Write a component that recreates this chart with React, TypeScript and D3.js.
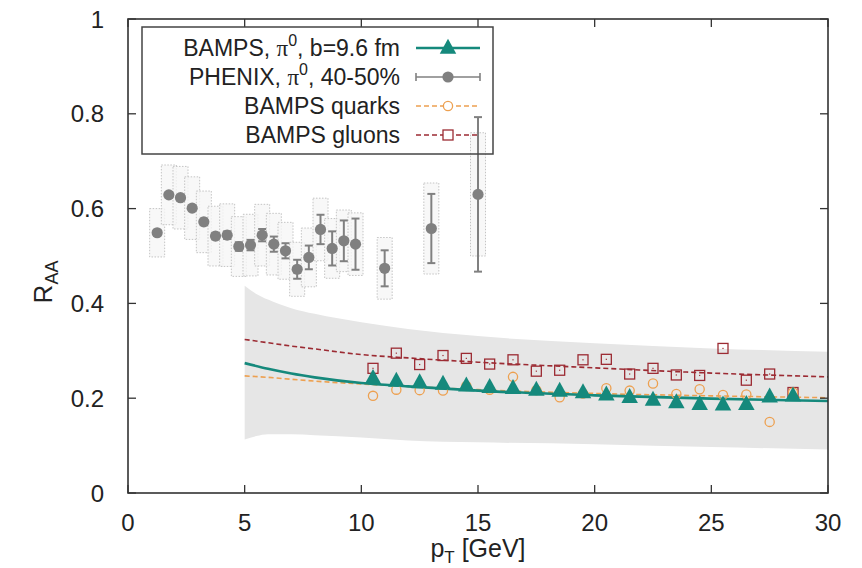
import React from "react";
import * as d3 from "d3";

// PHENIX pi0, 40-50%
const phenixPt = [1.25, 1.75, 2.25, 2.75, 3.25, 3.75, 4.25, 4.75, 5.25, 5.75, 6.25, 6.75, 7.25, 7.75, 8.25, 8.75, 9.25, 9.75, 11, 13, 15];
const phenixR = [0.549, 0.629, 0.623, 0.601, 0.572, 0.542, 0.544, 0.52, 0.523, 0.544, 0.525, 0.511, 0.472, 0.497, 0.556, 0.516, 0.532, 0.525, 0.474, 0.558, 0.63];
const phenixStat = [0.006, 0.006, 0.006, 0.006, 0.007, 0.007, 0.008, 0.009, 0.011, 0.013, 0.016, 0.016, 0.02, 0.025, 0.031, 0.036, 0.043, 0.054, 0.038, 0.073, 0.163];
const phenixSys = [0.051, 0.063, 0.066, 0.066, 0.065, 0.063, 0.066, 0.063, 0.065, 0.065, 0.065, 0.06, 0.057, 0.062, 0.066, 0.063, 0.065, 0.066, 0.065, 0.096, 0.13];

// BAMPS points
const bampsPt = [10.5, 11.5, 12.5, 13.5, 14.5, 15.5, 16.5, 17.5, 18.5, 19.5, 20.5, 21.5, 22.5, 23.5, 24.5, 25.5, 26.5, 27.5, 28.5];
const bampsPion = [0.242, 0.236, 0.233, 0.23, 0.226, 0.223, 0.221, 0.217, 0.215, 0.212, 0.207, 0.202, 0.196, 0.191, 0.187, 0.186, 0.187, 0.203, 0.205];
const bampsQuarks = [0.205, 0.218, 0.217, 0.216, 0.226, 0.218, 0.245, 0.217, 0.202, 0.21, 0.221, 0.216, 0.231, 0.209, 0.219, 0.207, 0.208, 0.15, 0.212];
const bampsGluons = [0.263, 0.295, 0.271, 0.29, 0.284, 0.272, 0.281, 0.257, 0.259, 0.281, 0.282, 0.251, 0.263, 0.249, 0.248, 0.305, 0.238, 0.251, 0.212];

// fit curves
const curvePt = [5, 6, 7, 8, 10, 12, 15, 20, 25, 30];
const curvePion = [0.274, 0.262, 0.252, 0.244, 0.232, 0.225, 0.216, 0.206, 0.199, 0.194];
const curveQuarks = [0.247, 0.244, 0.24, 0.236, 0.23, 0.225, 0.218, 0.21, 0.205, 0.201];
const curveGluons = [0.324, 0.317, 0.31, 0.304, 0.292, 0.285, 0.276, 0.264, 0.253, 0.245];

// uncertainty band
const bandPt = [5, 5.5, 6, 7, 8, 10, 12, 15, 20, 25, 30];
const bandLow = [0.113, 0.12, 0.124, 0.124, 0.122, 0.117, 0.111, 0.107, 0.103, 0.097, 0.092];
const bandHigh = [0.437, 0.42, 0.408, 0.39, 0.378, 0.36, 0.346, 0.331, 0.316, 0.305, 0.298];

const xTicks = [0, 5, 10, 15, 20, 25, 30];
const yTicks = [0, 0.2, 0.4, 0.6, 0.8, 1];

const TEAL = "#15897c";
const GRAY = "#808080";
const ORANGE = "#eda050";
const DRED = "#9c2b33";
const FONT = "'Liberation Sans', Arial, Helvetica, sans-serif";

export default function App() {
  const x = d3.scaleLinear().domain([0, 30]).range([128, 828]);
  const y = d3.scaleLinear().domain([0, 1]).range([493, 19]);
  const [x0, x1] = x.range();
  const [yb, yt] = y.range();

  const area = d3
    .area<number>()
    .x((d, i) => x(bandPt[i]))
    .y0((d, i) => y(bandLow[i]))
    .y1((d, i) => y(bandHigh[i]))
    .curve(d3.curveMonotoneX);

  const line = (vals: number[]) =>
    d3
      .line<number>()
      .x((d, i) => x(curvePt[i]))
      .y((d) => y(d))
      .curve(d3.curveMonotoneX)(vals) as string;

  const tri = (cx: number, cy: number, s: number) =>
    `M${cx},${cy - s * 0.62}L${cx + s * 0.55},${cy + s * 0.38}L${cx - s * 0.55},${cy + s * 0.38}Z`;

  const tickLen = 8;
  const legX = 400;
  const legRows = [48, 77, 106, 135];
  const sx0 = 416;
  const sx1 = 480;
  const smid = 448;

  return (
    <svg
      width={862}
      height={568}
      style={{ position: "absolute", left: 0, top: 0, background: "#fff" }}
      fontFamily={FONT}
    >
      {/* band */}
      <path d={area(bandPt) as string} fill="#e6e6e6" stroke="none" />

      {/* systematic boxes */}
      {phenixPt.map((p, i) => (
        <rect
          key={"sys" + i}
          x={x(p) - 7.5}
          y={y(phenixR[i] + phenixSys[i])}
          width={15}
          height={y(phenixR[i] - phenixSys[i]) - y(phenixR[i] + phenixSys[i])}
          fill="#f6f6f6"
          fillOpacity={0.8}
          stroke="#c4c4c4"
          strokeWidth={1}
          strokeDasharray="1.5,1.5"
        />
      ))}

      {/* curves */}
      <path d={line(curveQuarks)} fill="none" stroke={ORANGE} strokeWidth={1.6} strokeDasharray="5,3" />
      <path d={line(curveGluons)} fill="none" stroke={DRED} strokeWidth={1.6} strokeDasharray="5,3" />
      <path d={line(curvePion)} fill="none" stroke={TEAL} strokeWidth={2.6} />

      {/* gluon squares */}
      {bampsPt.map((p, i) => (
        <g key={"g" + i}>
          <rect x={x(p) - 5} y={y(bampsGluons[i]) - 5} width={10} height={10} fill="none" stroke={DRED} strokeWidth={1.3} />
          <rect x={x(p) - 0.6} y={y(bampsGluons[i]) - 0.6} width={1.2} height={1.2} fill={DRED} />
        </g>
      ))}
      {/* quark circles */}
      {bampsPt.map((p, i) => (
        <circle key={"q" + i} cx={x(p)} cy={y(bampsQuarks[i])} r={4.6} fill="none" stroke={ORANGE} strokeWidth={1.3} />
      ))}
      {/* pion triangles */}
      {bampsPt.map((p, i) => (
        <path key={"t" + i} d={tri(x(p), y(bampsPion[i]), 15)} fill={TEAL} />
      ))}

      {/* PHENIX error bars and points */}
      {phenixPt.map((p, i) => {
        const cx = x(p);
        const ya = y(phenixR[i] + phenixStat[i]);
        const yz = y(phenixR[i] - phenixStat[i]);
        return (
          <g key={"ph" + i} stroke={GRAY} strokeWidth={2}>
            <line x1={cx} x2={cx} y1={ya} y2={yz} />
            <line x1={cx - 4} x2={cx + 4} y1={ya} y2={ya} />
            <line x1={cx - 4} x2={cx + 4} y1={yz} y2={yz} />
            <circle cx={cx} cy={y(phenixR[i])} r={5.6} fill={GRAY} stroke="none" />
          </g>
        );
      })}

      {/* frame */}
      <rect x={x0} y={yt} width={x1 - x0} height={yb - yt} fill="none" stroke="#333" strokeWidth={1.6} />
      {xTicks.map((t) => (
        <g key={"xt" + t} stroke="#333" strokeWidth={1.3}>
          <line x1={x(t)} x2={x(t)} y1={yb} y2={yb - tickLen} />
          <line x1={x(t)} x2={x(t)} y1={yt} y2={yt + tickLen} />
        </g>
      ))}
      {yTicks.map((t) => (
        <g key={"yt" + t} stroke="#333" strokeWidth={1.3}>
          <line x1={x0} x2={x0 + tickLen} y1={y(t)} y2={y(t)} />
          <line x1={x1} x2={x1 - tickLen} y1={y(t)} y2={y(t)} />
        </g>
      ))}
      {xTicks.map((t) => (
        <text key={"xl" + t} x={x(t)} y={531} fontSize={24} textAnchor="middle" fill="#222">
          {t}
        </text>
      ))}
      {yTicks.map((t) => (
        <text key={"yl" + t} x={104} y={y(t) + 8.5} fontSize={24} textAnchor="end" fill="#222">
          {d3.format("~g")(t)}
        </text>
      ))}

      {/* axis labels */}
      <text x={478} y={557} fontSize={25} textAnchor="middle" fill="#222">
        p<tspan fontSize={17} dy={6}>T</tspan>
        <tspan dy={-6}> [GeV]</tspan>
      </text>
      <text transform="translate(52,282) rotate(-90)" fontSize={26} textAnchor="middle" fill="#222">
        R<tspan fontSize={18} dy={6}>AA</tspan>
      </text>

      {/* legend */}
      <rect x={142} y={27} width={351} height={127} fill="none" stroke="#444" strokeWidth={1.5} />
      <g fontSize={23} fill="#222" textAnchor="end">
        <text x={legX} y={legRows[0] + 8}>
          BAMPS, <tspan fontFamily="'Liberation Serif', 'DejaVu Serif', serif">π</tspan>
          <tspan fontSize={16} dy={-10}>0</tspan>
          <tspan dy={10}>, b=9.6 fm</tspan>
        </text>
        <text x={legX} y={legRows[1] + 8}>
          PHENIX, <tspan fontFamily="'Liberation Serif', 'DejaVu Serif', serif">π</tspan>
          <tspan fontSize={16} dy={-10}>0</tspan>
          <tspan dy={10}>, 40-50%</tspan>
        </text>
        <text x={legX} y={legRows[2] + 8}>BAMPS quarks</text>
        <text x={legX} y={legRows[3] + 8}>BAMPS gluons</text>
      </g>
      <line x1={sx0} x2={sx1} y1={legRows[0]} y2={legRows[0]} stroke={TEAL} strokeWidth={2.6} />
      <path d={tri(smid, legRows[0], 15)} fill={TEAL} />
      <g stroke={GRAY} strokeWidth={1.6}>
        <line x1={sx0} x2={sx1} y1={legRows[1]} y2={legRows[1]} />
        <line x1={sx0} x2={sx0} y1={legRows[1] - 4} y2={legRows[1] + 4} />
        <line x1={sx1} x2={sx1} y1={legRows[1] - 4} y2={legRows[1] + 4} />
      </g>
      <circle cx={smid} cy={legRows[1]} r={5.6} fill={GRAY} />
      <line x1={sx0} x2={sx1} y1={legRows[2]} y2={legRows[2]} stroke={ORANGE} strokeWidth={1.6} strokeDasharray="5,3" />
      <circle cx={smid} cy={legRows[2]} r={4.6} fill="#fff" stroke={ORANGE} strokeWidth={1.3} />
      <line x1={sx0} x2={sx1} y1={legRows[3]} y2={legRows[3]} stroke={DRED} strokeWidth={1.6} strokeDasharray="5,3" />
      <rect x={smid - 5} y={legRows[3] - 5} width={10} height={10} fill="#fff" stroke={DRED} strokeWidth={1.3} />
    </svg>
  );
}
